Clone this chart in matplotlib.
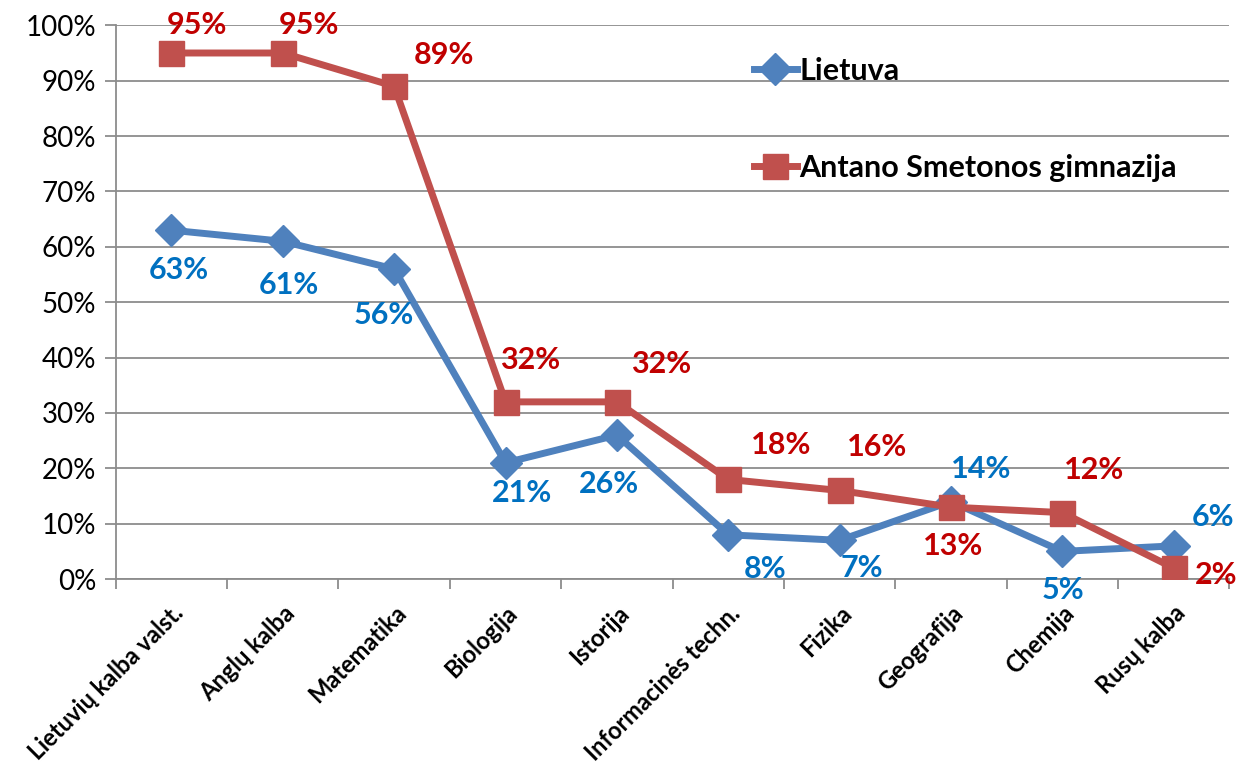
import matplotlib.pyplot as plt
from matplotlib.ticker import FixedLocator, PercentFormatter
from matplotlib.transforms import ScaledTranslation

plt.rcParams['font.family'] = ['Lato', 'DejaVu Sans']

subjects = ["Lietuvių kalba valst.", "Anglų kalba", "Matematika", "Biologija",
            "Istorija", "Informacinės techn.", "Fizika", "Geografija",
            "Chemija", "Rusų kalba"]
lietuva = [63, 61, 56, 21, 26, 8, 7, 14, 5, 6]
gimnazija = [95, 95, 89, 32, 32, 18, 16, 13, 12, 2]

# label offsets in pixels (dx, dy)
lt_off = [(7, -40), (6, -44), (-10, -46), (16, -30), (-8, -49),
          (37, -34), (22, -28), (30, 33), (1, -39), (39, 29)]
gm_off = [(26, 28), (26, 28), (50, 31), (25, 42), (44, 38),
          (53, 34), (37, 43), (2, -39), (32, 43), (42, -7)]

blue, red = '#4F81BD', '#C0504D'
blue_txt, red_txt = '#0070C0', '#C00000'
grid_c = '#8C8C8C'

fig = plt.figure(figsize=(12.38, 7.67), dpi=100)
ax = fig.add_axes([0.0935, 0.245, 0.8995, 0.722])

x = range(len(subjects))
ax.plot(x, lietuva, color=blue, lw=5, marker='D', ms=16, label='Lietuva', zorder=3)
ax.plot(x, gimnazija, color=red, lw=5, marker='s', ms=18, label='Antano Smetonos gimnazija', zorder=4)

for i, v in enumerate(lietuva):
    ax.annotate(f"{v}%", (i, v), xytext=lt_off[i], textcoords='offset pixels',
                ha='center', va='center', color=blue_txt, fontsize=22, fontweight='bold', zorder=5)
for i, v in enumerate(gimnazija):
    ax.annotate(f"{v}%", (i, v), xytext=gm_off[i], textcoords='offset pixels',
                ha='center', va='center', color=red_txt, fontsize=22, fontweight='bold', zorder=5)

ax.set_xlim(-0.5, len(subjects) - 0.5)
ax.set_ylim(0, 100)
ax.set_yticks(range(0, 101, 10))
ax.yaxis.set_major_formatter(PercentFormatter(decimals=0))
ax.grid(axis='y', color=grid_c, lw=1.3)
ax.set_axisbelow(True)

ax.set_xticks(list(x))
ax.set_xticklabels(subjects, rotation=45, ha='right', rotation_mode='anchor',
                   fontsize=17, fontweight='bold')
shift = ScaledTranslation(-6 / 100, 0, fig.dpi_scale_trans)
for lbl in ax.get_xticklabels():
    lbl.set_transform(lbl.get_transform() + shift)
ax.xaxis.set_minor_locator(FixedLocator([i - 0.5 for i in range(len(subjects) + 1)]))
ax.tick_params(axis='x', which='major', length=0, pad=16)
ax.tick_params(axis='x', which='minor', length=7, color=grid_c, width=1.3)
ax.tick_params(axis='y', length=8, color=grid_c, width=1.3, labelsize=20, pad=6)

for s in ['top', 'right']:
    ax.spines[s].set_visible(False)
for s in ['left', 'bottom']:
    ax.spines[s].set_color(grid_c)
    ax.spines[s].set_linewidth(1.3)

leg = ax.legend(loc='upper left', bbox_to_anchor=(0.562, 0.965), frameon=False,
                prop={'weight': 'bold', 'size': 22}, handlelength=1.4,
                handletextpad=0.1, labelspacing=2.25, borderaxespad=0)

fig.savefig('out.png', dpi=100)
